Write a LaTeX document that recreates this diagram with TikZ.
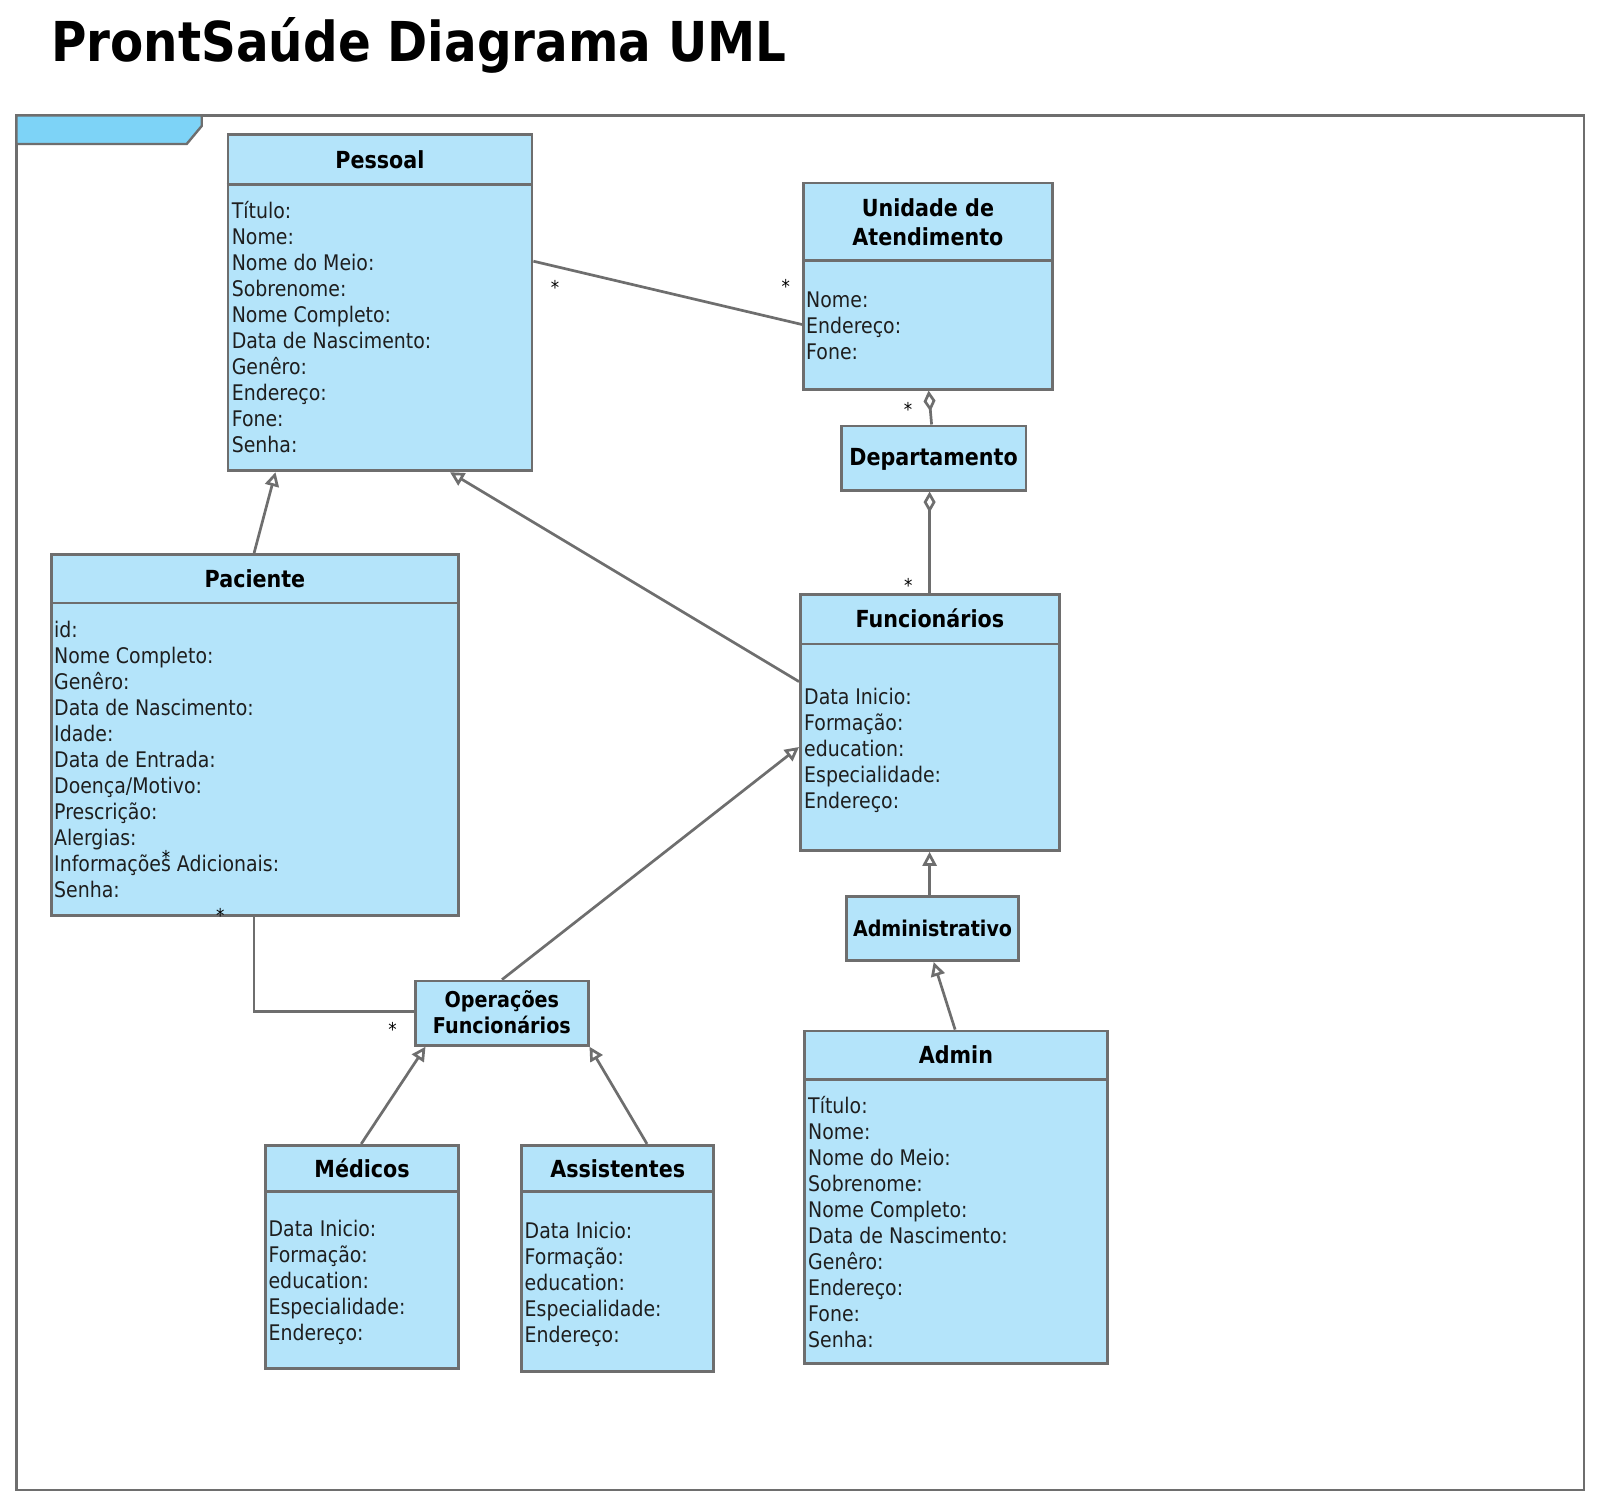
\documentclass[tikz,border=0pt]{standalone}
\usepackage{fontspec}
\setmainfont{DejaVu Sans}[FakeStretch=0.88]
\usetikzlibrary{arrows.meta}
\definecolor{boxc}{HTML}{B4E4FA}
\definecolor{tabc}{HTML}{7DD3F7}
\definecolor{bordc}{HTML}{6E6E6E}
\definecolor{txtc}{HTML}{1E1E1E}
\tikzset{
  cls/.style={draw=bordc, fill=boxc, line width=2.8pt, rectangle, inner sep=0pt, anchor=north west},
  sepl/.style={draw=bordc, line width=2.8pt},
  attr/.style={anchor=base west, inner sep=0pt, font=\fontsize{21.5}{26}\selectfont, text=txtc},
  ttl/.style={anchor=base, inner sep=0pt, font=\fontsize{23.5}{28}\selectfont\bfseries, text=black},
  conn/.style={draw=bordc, line width=2.7pt},
  gen/.style={conn, -{Triangle[open, length=14pt, width=14pt, fill=white]}},
  agg/.style={conn, -{Diamond[open, length=21pt, width=12pt, fill=white]}},
  mult/.style={anchor=base, inner sep=0pt, font=\fontsize{19}{20}\selectfont, text=black},
}
\newcommand{\attrlist}[4]{%
  \foreach \t [count=\i] in {#4}{%
    \node[attr] (#1-\i) at (#2,{#3+(\i-1)*26}) {\t};
  }%
}
\begin{document}
\begin{tikzpicture}[x=1pt,y=-1pt]
\useasboundingbox (0,0) rectangle (1600,1505);
\fill[white] (0,0) rectangle (1600,1505);

% title
\node[anchor=base west, inner sep=0pt, font=\fontsize{55}{60}\selectfont\bfseries] (title) at (51,61) {ProntSaúde Diagrama UML};

% frame
\draw[draw=bordc, line width=2.4pt] (16.3,115.3) rectangle (1583.7,1489.8);
\filldraw[fill=tabc, draw=bordc, line width=2.4pt] (16.3,115.3) -- (201.7,115.3) -- (201.7,126) -- (186.7,144) -- (16.3,144) -- cycle;

% Pessoal
\node[cls, minimum width=304.1, minimum height=336.7] (pessoal) at (226.5,132.7) {};
\draw[sepl] (pessoal.west |- 0,184.7) -- (pessoal.east |- 0,184.7);
\node[ttl] (pessoalT) at (pessoal.north |- 0,168.7) {Pessoal};
\attrlist{pa}{231.6}{218}{Título:,Nome:,Nome do Meio:,Sobrenome:,Nome Completo:,Data de Nascimento:,Genêro:,Endereço:,Fone:,Senha:}

% Unidade de Atendimento
\node[cls, minimum width=249, minimum height=206.2] (unid) at (802,181.6) {};
\draw[sepl] (unid.west |- 0,260.2) -- (unid.east |- 0,260.2);
\node[ttl] (unidT1) at (unid.north |- 0,216.7) {Unidade de};
\node[ttl] (unidT2) at (unid.north |- 0,245.2) {Atendimento};
\attrlist{ua}{806}{307}{Nome:,Endereço:,Fone:}

% Departamento
\node[cls, minimum width=184.7, minimum height=64.3] (dep) at (839.8,424.5) {};
\node[ttl] (depT) at (dep.north |- 0,465.5) {Departamento};

% Funcionarios
\node[cls, minimum width=259, minimum height=256.1] (func) at (799,592.9) {};
\draw[sepl] (func.west |- 0,643.9) -- (func.east |- 0,643.9);
\node[ttl] (funcT) at (func.north |- 0,627.9) {Funcionários};
\attrlist{fa}{804}{704}{Data Inicio:,Formação:,education:,Especialidade:,Endereço:}

% Paciente
\node[cls, minimum width=407.1, minimum height=361.3] (pac) at (50,553) {};
\draw[sepl] (pac.west |- 0,603) -- (pac.east |- 0,603);
\node[ttl] (pacT) at (pac.north |- 0,587) {Paciente};
\attrlist{pc}{54}{637.6}{id:,Nome Completo:,Genêro:,Data de Nascimento:,Idade:,Data de Entrada:,Doença/Motivo:,Prescrição:,Alergias:,Informações Adicionais:,Senha:}

% Administrativo
\node[cls, minimum width=172.3, minimum height=64.3] (admv) at (845,894.9) {};
\node[ttl, font=\fontsize{21.7}{26}\selectfont\bfseries] (admvT) at (admv.north |- 0,936) {Administrativo};

% Operacoes Funcionarios
\node[cls, minimum width=172.4, minimum height=64.3] (ops) at (414.3,979.6) {};
\node[ttl, font=\fontsize{21.8}{26}\selectfont\bfseries] (opsT1) at (ops.north |- 0,1007.5) {Operações};
\node[ttl, font=\fontsize{21.8}{26}\selectfont\bfseries] (opsT2) at (ops.north |- 0,1033) {Funcionários};

% Admin
\node[cls, minimum width=303.1, minimum height=332.6] (admin) at (803,1029.6) {};
\draw[sepl] (admin.west |- 0,1079.6) -- (admin.east |- 0,1079.6);
\node[ttl] (adminT) at (admin.north |- 0,1063.5) {Admin};
\attrlist{ad}{808}{1113}{Título:,Nome:,Nome do Meio:,Sobrenome:,Nome Completo:,Data de Nascimento:,Genêro:,Endereço:,Fone:,Senha:}

% Medicos
\node[cls, minimum width=192.8, minimum height=223.4] (med) at (264.3,1143.9) {};
\draw[sepl] (med.west |- 0,1191.8) -- (med.east |- 0,1191.8);
\node[ttl] (medT) at (med.north |- 0,1177) {Médicos};
\attrlist{me}{268.4}{1236.6}{Data Inicio:,Formação:,education:,Especialidade:,Endereço:}

% Assistentes
\node[cls, minimum width=191.8, minimum height=226.5] (ast) at (520.4,1143.9) {};
\draw[sepl] (ast.west |- 0,1191.8) -- (ast.east |- 0,1191.8);
\node[ttl] (astT) at (ast.north |- 0,1177) {Assistentes};
\attrlist{as}{524.5}{1238.6}{Data Inicio:,Formação:,education:,Especialidade:,Endereço:}

% connectors
\draw[conn] (pessoal.east |- 0,261.2) -- (unid.west |- 0,324.5);
\draw[agg] (dep.north -| 931.6,0) -- (unid.south -| 928.6,0);
\draw[agg] (func.north -| 929.6,0) -- (dep.south -| 929.6,0);
\draw[gen] (pac.north -| 254.1,0) -- (pessoal.south -| 275.5,0);
\draw[gen] (func.west |- 0,681.6) -- (pessoal.south -| 450,0);
\draw[gen] (ops.north -| 502,0) -- (func.west |- 0,747);
\draw[gen] (admv.north -| 929.6,0) -- (func.south -| 929.6,0);
\draw[gen] (admin.north -| 955.1,0) -- (admv.south -| 933.7,0);
\draw[gen] (med.north -| 361.2,0) -- (ops.south -| 425.5,0);
\draw[gen] (ast.north -| 647,0) -- (ops.south east);
\draw[conn] (pac.south -| 254.1,0) |- (ops.west |- 0,1011.2);

% multiplicities
\node[mult] (m1) at (555,294) {*};
\node[mult] (m2) at (785.7,293) {*};
\node[mult] (m3) at (908,416.5) {*};
\node[mult] (m4) at (908.2,592) {*};
\node[mult] (m5) at (220.4,922) {*};
\node[mult] (m6) at (392.5,1036.5) {*};
\node[mult] (m7) at (166,864) {*};
\end{tikzpicture}
\end{document}
